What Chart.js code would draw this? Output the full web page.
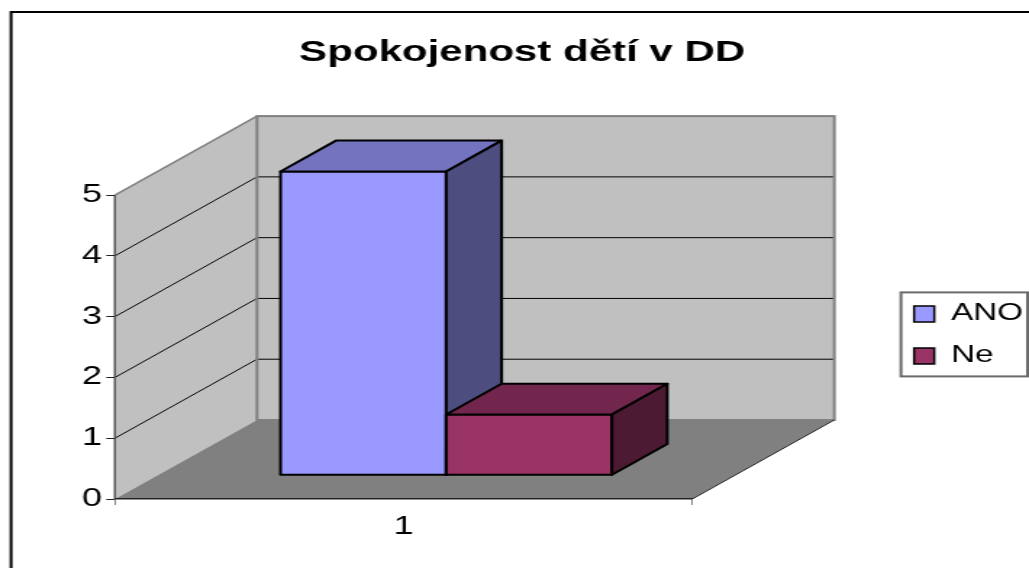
<!DOCTYPE html>
<html>
<head>
  <meta charset="utf-8">
  <title>Spokojenost dětí v DD</title>
  <script src="https://cdn.jsdelivr.net/npm/chart.js"></script>
  <style>
    body { margin: 0; background: #fff; }
  </style>
</head>
<body>
  <!-- the source picture is stretched sideways: draw narrow, widen with CSS -->
  <canvas id="graf" width="710" height="568" style="display:block;width:1029px;height:568px"></canvas>

  <script>
    // data
    const categories = ['1'];
    const seriesNames = ['ANO', 'Ne'];
    const anoValues = [5];
    const neValues = [1];
    const yTicks = [0, 1, 2, 3, 4, 5];

    const seriesColors = ['#9999FF', '#993366'];

    // 3D look (canvas px)
    const DEPTH_X = 98;
    const DEPTH_Y = -79;
    const BAR_FRONT = 0.30;   // bar front face, as part of the depth
    const BAR_BACK = 0.69;

    function shade(hex, f) {
      const n = parseInt(hex.slice(1), 16);
      const r = Math.round((n >> 16) * f), g = Math.round(((n >> 8) & 255) * f), b = Math.round((n & 255) * f);
      return `rgb(${r},${g},${b})`;
    }

    function poly(ctx, pts, fill, stroke) {
      ctx.beginPath();
      ctx.moveTo(pts[0][0], pts[0][1]);
      for (let i = 1; i < pts.length; i++) ctx.lineTo(pts[i][0], pts[i][1]);
      ctx.closePath();
      if (fill) { ctx.fillStyle = fill; ctx.fill(); }
      if (stroke) ctx.stroke();
    }

    function line(ctx, x1, y1, x2, y2) {
      ctx.beginPath();
      ctx.moveTo(x1, y1);
      ctx.lineTo(x2, y2);
      ctx.stroke();
    }

    const box3d = {
      id: 'box3d',
      beforeDraw(chart) {
        const { ctx, chartArea: a, scales: { y } } = chart;
        const y0 = y.getPixelForValue(yTicks[0]);
        const yTop = y.getPixelForValue(yTicks[yTicks.length - 1]);
        const L = a.left, R = a.right, dx = DEPTH_X, dy = DEPTH_Y;
        ctx.save();

        // frame round the whole picture
        ctx.strokeStyle = '#000';
        ctx.lineWidth = 2;
        ctx.strokeRect(7.6, 12, chart.width + 20, chart.height + 20);

        // walls and floor
        poly(ctx, [[L, y0], [L, yTop], [L + dx, yTop + dy], [L + dx, y0 + dy]], '#c0c0c0');
        poly(ctx, [[L + dx, yTop + dy], [R + dx, yTop + dy], [R + dx, y0 + dy], [L + dx, y0 + dy]], '#c0c0c0');
        poly(ctx, [[L, y0], [R, y0], [R + dx, y0 + dy], [L + dx, y0 + dy]], '#808080');

        // gridlines on side and back wall
        ctx.strokeStyle = '#000';
        ctx.lineWidth = 1;
        yTicks.slice(1, -1).forEach(v => {
          const p = y.getPixelForValue(v);
          line(ctx, L, p, L + dx, p + dy);
          line(ctx, L + dx, p + dy, R + dx, p + dy);
        });

        // wall edges
        ctx.strokeStyle = '#808080';
        ctx.lineWidth = 2;
        ctx.strokeRect(L + dx, yTop + dy, R - L, y0 - yTop);
        ctx.lineWidth = 1.5;
        line(ctx, L, yTop, L + dx, yTop + dy);
        ctx.strokeStyle = '#555';
        line(ctx, L, yTop, L, y0);
        ctx.strokeStyle = '#222';
        ctx.lineWidth = 1;
        line(ctx, R, y0, R + dx, y0 + dy);
        ctx.restore();
      },
      beforeDatasetsDraw(chart) {
        // bars as boxes: front, top, side, first series first
        const { ctx } = chart;
        const fx = DEPTH_X * BAR_FRONT, fy = DEPTH_Y * BAR_FRONT;
        const hx = DEPTH_X * (BAR_BACK - BAR_FRONT), hy = DEPTH_Y * (BAR_BACK - BAR_FRONT);
        ctx.save();
        ctx.lineJoin = 'round';
        chart.data.datasets.forEach((ds, i) => {
          chart.getDatasetMeta(i).data.forEach(bar => {
            const { x, y, base, width } = bar.getProps(['x', 'y', 'base', 'width'], true);
            const l = x - width / 2 + fx, r = x + width / 2 + fx, t = y + fy, b = base + fy;
            ctx.strokeStyle = ds.borderColor;
            ctx.lineWidth = 2;
            poly(ctx, [[l, t], [r, t], [r, b], [l, b]], ds.backgroundColor, true);
            poly(ctx, [[l, t], [l + hx, t + hy], [r + hx, t + hy], [r, t]], shade(ds.backgroundColor, 0.75), true);
            poly(ctx, [[r, t], [r + hx, t + hy], [r + hx, b + hy], [r, b]], shade(ds.backgroundColor, 0.5), true);
          });
        });
        ctx.restore();
        return false;
      },
      afterDraw(chart) {
        // box round the legend
        const { ctx } = chart;
        const hb = chart.legend.legendHitBoxes;
        const first = hb[0], last = hb[hb.length - 1];
        const left = first.left - 9, top = first.top - 10;
        ctx.save();
        ctx.strokeStyle = '#6a6a6a';
        ctx.lineWidth = 2;
        ctx.strokeRect(left, top, chart.width - 1 - left, last.top + last.height + 9 - top);
        ctx.restore();
      }
    };

    Chart.defaults.font.family = "'Liberation Sans', Arial, sans-serif";
    Chart.defaults.color = '#000';

    new Chart(document.getElementById('graf'), {
      type: 'bar',
      data: {
        labels: categories,
        datasets: [
          { label: seriesNames[0], data: anoValues, backgroundColor: seriesColors[0], borderColor: '#000', borderWidth: 1.5, categoryPercentage: 0.574, barPercentage: 1 },
          { label: seriesNames[1], data: neValues, backgroundColor: seriesColors[1], borderColor: '#000', borderWidth: 1.5, categoryPercentage: 0.574, barPercentage: 1 }
        ]
      },
      options: {
        responsive: false,
        animation: false,
        devicePixelRatio: 1,
        layout: { padding: { left: 4.5, right: -6, top: 0, bottom: 0 } },
        plugins: {
          title: {
            display: true,
            text: 'Spokojenost dětí v DD',
            color: '#000',
            font: { size: 29, weight: 'bold' },
            padding: { top: 36, bottom: 100 }
          },
          legend: {
            position: 'right',
            fullSize: false,
            labels: { color: '#000', font: { size: 23 }, boxWidth: 14, boxHeight: 16, padding: 19 }
          },
          tooltip: { enabled: false }
        },
        scales: {
          x: {
            grid: { drawOnChartArea: false, tickLength: 6, color: '#808080' },
            border: { color: '#222', width: 1.5 },
            ticks: { color: '#000', font: { size: 25 }, padding: 7 },
            afterFit(s) { s.height = 69; }
          },
          y: {
            min: 0,
            max: 5.4,
            afterBuildTicks(s) { s.ticks = yTicks.map(v => ({ value: v })); },
            grid: { drawOnChartArea: false, tickLength: 6, color: '#222' },
            border: { display: false },
            ticks: { color: '#000', font: { size: 25 }, padding: 3 },
            afterFit(s) { s.width = 74.8; }
          },
          // empty room between the plot and the legend
          gap: {
            type: 'linear',
            position: 'right',
            display: true,
            grid: { display: false },
            border: { display: false },
            ticks: { display: false },
            afterFit(s) { s.width = 134; }
          }
        }
      },
      plugins: [box3d]
    });
  </script>
</body>
</html>
